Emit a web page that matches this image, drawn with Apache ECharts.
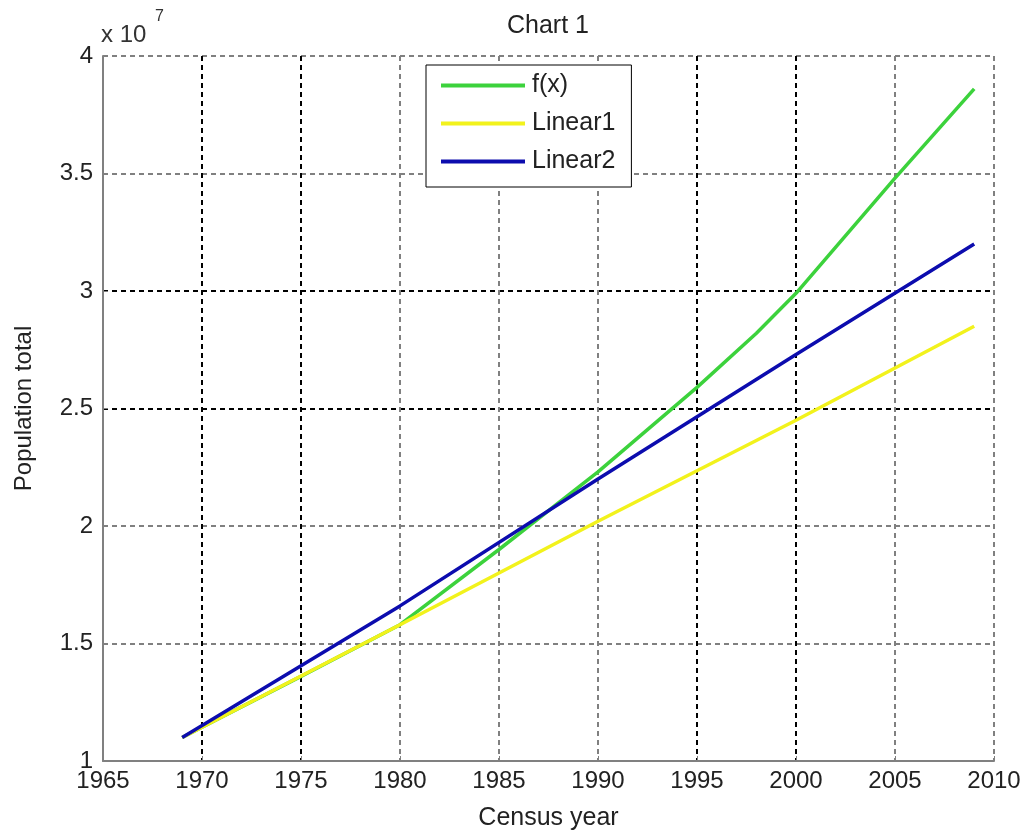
<!DOCTYPE html>
<html>
<head>
<meta charset="utf-8">
<title>Chart 1</title>
<script src="https://cdn.jsdelivr.net/npm/echarts@6/dist/echarts.min.js"></script>
<style>
  html, body { margin: 0; padding: 0; background: #fff; }
  #chart1 { width: 1031px; height: 836px; }
</style>
</head>
<body>
<div id="chart1"></div>
<script>
// data (population, x 10^7 shown on the axis)
var fxYears = [1969, 1970, 1975, 1980, 1985, 1990, 1995, 1998, 2000, 2005, 2009];
var fxPop = [1.10e7, 1.144e7, 1.36e7, 1.58e7, 1.90e7, 2.23e7, 2.59e7, 2.82e7, 2.99e7, 3.48e7, 3.86e7];
var linYears = [1969, 1980, 1990, 2000, 2009];
var linear1Pop = [1.10e7, 1.58e7, 2.02e7, 2.45e7, 2.85e7];
var linear2Pop = [1.10e7, 1.66e7, 2.20e7, 2.73e7, 3.20e7];
var seriesNames = ['f(x)', 'Linear1', 'Linear2'];
var seriesColors = ['#3cd23c', '#f2f21c', '#0c0cae'];

function pairs(xs, ys) {
    var out = [];
    for (var i = 0; i < xs.length; i++) {
        out.push([xs[i], ys[i]]);
    }
    return out;
}

var font = 'Liberation Sans, Arial, sans-serif';
var myChart = echarts.init(document.getElementById('chart1'));

var option = {
    backgroundColor: '#fff',
    animation: false,
    title: {
        text: 'Chart 1',
        left: 548,
        top: 14,
        textAlign: 'center',
        padding: 0,
        textStyle: { fontFamily: font, fontSize: 25, fontWeight: 'normal', color: '#222' }
    },
    legend: {
        orient: 'vertical',
        left: 426,
        top: 65,
        data: seriesNames,
        icon: 'rect',
        itemWidth: 84,
        itemHeight: 4,
        itemGap: 13,
        padding: [8, 16, 13, 15],
        borderColor: '#000',
        borderWidth: 1,
        backgroundColor: '#fff',
        textStyle: { fontFamily: font, fontSize: 25, color: '#222', lineHeight: 25, padding: [0, 0, 0, 2] }
    },
    grid: {
        left: 103,
        right: 37,
        top: 56,
        bottom: 72
    },
    graphic: [
        {
            type: 'text', left: 101, top: 23,
            style: { text: 'x 10', font: '24px ' + font, fill: '#333' }
        },
        {
            type: 'text', left: 155, top: 9,
            style: { text: '7', font: '16px ' + font, fill: '#333' }
        }
    ],
    xAxis: {
        type: 'value',
        min: 1965,
        max: 2010,
        interval: 5,
        name: 'Census year',
        nameLocation: 'middle',
        nameGap: 45,
        nameTextStyle: { fontFamily: font, fontSize: 25, color: '#222' },
        axisLine: { lineStyle: { color: '#808080', width: 2 } },
        axisTick: { inside: true, length: 5, lineStyle: { color: '#808080' } },
        axisLabel: {
            fontFamily: font, fontSize: 24, color: '#222', margin: 8,
            formatter: function (v) { return String(v); }
        },
        splitLine: {
            show: true,
            lineStyle: {
                color: ['#808080', '#000', '#000', '#808080', '#808080', '#808080', '#000', '#000', '#808080', '#808080'],
                type: [5, 4],
                width: 2
            }
        }
    },
    yAxis: {
        type: 'value',
        min: 1e7,
        max: 4e7,
        interval: 0.5e7,
        name: 'Population total',
        nameLocation: 'middle',
        nameGap: 67,
        nameTextStyle: { fontFamily: font, fontSize: 24, color: '#222' },
        axisLine: { show: true, lineStyle: { color: '#808080', width: 2 } },
        axisTick: { show: true, inside: true, length: 5, lineStyle: { color: '#808080' } },
        axisLabel: {
            fontFamily: font, fontSize: 24, color: '#222', margin: 10,
            formatter: function (v) { return String(v / 1e7); }
        },
        splitLine: {
            show: true,
            lineStyle: {
                color: ['#808080', '#808080', '#808080', '#000', '#000', '#808080', '#808080'],
                type: [5, 4],
                width: 2
            }
        }
    },
    series: [
        {
            name: seriesNames[0],
            type: 'line',
            symbol: 'none',
            color: seriesColors[0],
            lineStyle: { width: 3.5 },
            data: pairs(fxYears, fxPop),
            z: 2
        },
        {
            name: seriesNames[1],
            type: 'line',
            symbol: 'none',
            color: seriesColors[1],
            lineStyle: { width: 3.5 },
            data: pairs(linYears, linear1Pop),
            z: 3
        },
        {
            name: seriesNames[2],
            type: 'line',
            symbol: 'none',
            color: seriesColors[2],
            lineStyle: { width: 3.5 },
            data: pairs(linYears, linear2Pop),
            z: 4
        }
    ]
};
myChart.setOption(option);
window.addEventListener('resize', function () {
    myChart.resize();
});
</script>
</body>
</html>
